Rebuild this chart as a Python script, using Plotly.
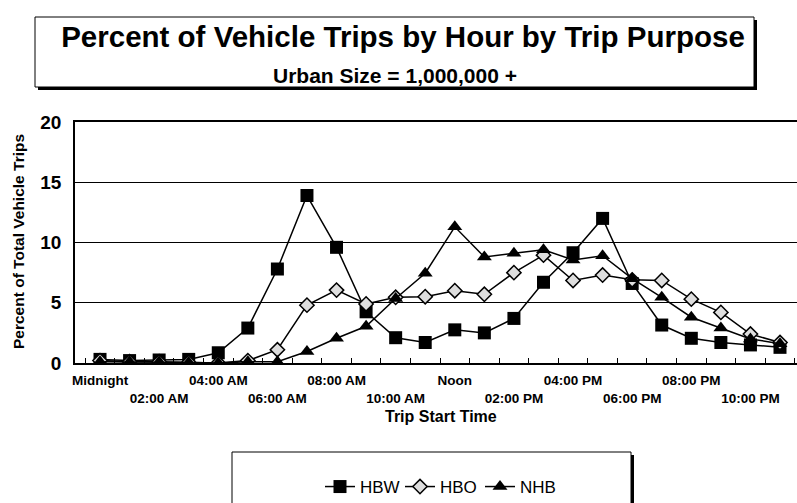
import plotly.graph_objects as go

# hourly share of vehicle trips (%), hour 0..23
hours = list(range(24))
hbw = [0.3, 0.2, 0.25, 0.3, 0.85, 2.9, 7.8, 13.9, 9.6, 4.25, 2.1, 1.7,
       2.75, 2.5, 3.7, 6.7, 9.15, 12.0, 6.6, 3.15, 2.05, 1.7, 1.5, 1.3]
hbo = [0.2, 0.1, 0.1, 0.05, 0.0, 0.2, 1.1, 4.8, 6.05, 4.9, 5.45, 5.5,
       6.0, 5.7, 7.5, 8.95, 6.85, 7.3, 6.9, 6.85, 5.3, 4.2, 2.4, 1.7]
nhb = [0.1, 0.1, 0.1, 0.05, 0.0, 0.1, 0.1, 0.95, 2.05, 3.05, 5.35, 7.45,
       11.3, 8.8, 9.1, 9.4, 8.55, 8.9, 7.0, 5.45, 3.8, 2.9, 2.0, 1.6]

tick_hours = [0, 2, 4, 6, 8, 10, 12, 14, 16, 18, 20, 22]
tick_labels = ["Midnight", "02:00 AM", "04:00 AM", "06:00 AM", "08:00 AM", "10:00 AM",
               "Noon", "02:00 PM", "04:00 PM", "06:00 PM", "08:00 PM", "10:00 PM"]

FONT = "Liberation Sans, Arial, sans-serif"

# staggered labels: every other one drops to a second line
ticktext = ["<b>" + t + "</b>" if i % 2 == 0 else "<br><b>" + t + "</b>"
            for i, t in enumerate(tick_labels)]

fig = go.Figure()
fig.add_trace(go.Scatter(x=hours, y=hbw, name="HBW", mode="lines+markers",
                         line=dict(color="black", width=1.5),
                         marker=dict(symbol="square", size=13, color="black")))
fig.add_trace(go.Scatter(x=hours, y=hbo, name="HBO", mode="lines+markers",
                         line=dict(color="black", width=1.5),
                         marker=dict(symbol="diamond", size=11, color="#dedede",
                                     line=dict(color="black", width=1.5))))
fig.add_trace(go.Scatter(x=hours, y=nhb, name="NHB", mode="lines+markers",
                         line=dict(color="black", width=1.5),
                         marker=dict(symbol="triangle-up", size=13, color="black")))

# plot area in px: left 75, right 797, top 122, bottom 363
def px_x(p):
    return (p - 75) / 722

def px_y(p):
    return (363 - p) / 241

shapes = [
    # title box shadow + box
    dict(type="rect", xref="paper", yref="paper", x0=px_x(38), x1=px_x(757),
         y0=px_y(90), y1=px_y(20), fillcolor="black", line=dict(width=0), layer="below"),
    dict(type="rect", xref="paper", yref="paper", x0=px_x(35), x1=px_x(754),
         y0=px_y(87), y1=px_y(17), fillcolor="white", line=dict(color="black", width=1),
         layer="below"),
    # legend box shadow + box
    dict(type="rect", xref="paper", yref="paper", x0=px_x(235), x1=px_x(634),
         y0=px_y(510), y1=px_y(455), fillcolor="black", line=dict(width=0), layer="below"),
    dict(type="rect", xref="paper", yref="paper", x0=px_x(232), x1=px_x(631),
         y0=px_y(510), y1=px_y(452), fillcolor="white", line=dict(color="black", width=1),
         layer="below"),
]

annotations = [
    dict(text="<b>Urban Size = 1,000,000 +</b>", xref="paper", yref="paper",
         x=px_x(395), y=px_y(75), xanchor="center", yanchor="middle",
         showarrow=False, font=dict(size=21, family=FONT)),
    dict(text="<b>Trip Start Time</b>", xref="paper", yref="paper",
         x=px_x(441), y=px_y(416), xanchor="center", yanchor="middle",
         showarrow=False, font=dict(size=16, family=FONT)),
    dict(text="<b>Percent of Total Vehicle Trips</b>", xref="paper", yref="paper",
         x=px_x(18), y=px_y(242), xanchor="center", yanchor="middle",
         showarrow=False, textangle=-90, font=dict(size=15.5, family=FONT)),
]

fig.update_layout(
    width=797, height=503,
    margin=dict(l=75, r=0, t=122, b=140, autoexpand=False),
    paper_bgcolor="white", plot_bgcolor="white",
    font=dict(family=FONT, color="black"),
    title=dict(text="<b>Percent of Vehicle Trips by Hour by Trip Purpose</b>",
               x=403 / 797, xanchor="center", y=1 - 37 / 503, yanchor="middle",
               font=dict(size=29.5, family=FONT)),
    showlegend=True,
    legend=dict(orientation="h", x=px_x(440), xanchor="center", y=px_y(487),
                yanchor="middle", font=dict(size=17, family=FONT),
                entrywidth=35, entrywidthmode="pixels",
                bgcolor="rgba(0,0,0,0)"),
    shapes=shapes,
    annotations=annotations,
)

fig.update_xaxes(range=[-0.846, 23.575], tickvals=tick_hours, ticktext=ticktext,
                 tickangle=0, automargin=False, ticklabelstandoff=4,
                 ticks="", showgrid=False, zeroline=False,
                 showline=True, linecolor="black", linewidth=1.5, mirror=True,
                 tickfont=dict(size=13.5, family=FONT),
                 minor=dict(tick0=0.5, dtick=1, ticks="inside", ticklen=5,
                            tickcolor="black", showgrid=False))
fig.update_yaxes(range=[0, 20], tickvals=[0, 5, 10, 15, 20],
                 ticktext=["<b>0</b>", "<b>5</b>", "<b>10</b>", "<b>15</b>", "<b>20</b>"],
                 automargin=False,
                 showgrid=True, gridcolor="black", gridwidth=1, zeroline=False,
                 showline=True, linecolor="black", linewidth=1.5,
                 tickfont=dict(size=19, family=FONT), ticks="", ticklabelstandoff=8)

# page body has a default 8px margin; drop it so the figure sits at the window corner
fig.write_html("out.html", config={"displayModeBar": False},
               post_script="document.body.style.margin='0';")
